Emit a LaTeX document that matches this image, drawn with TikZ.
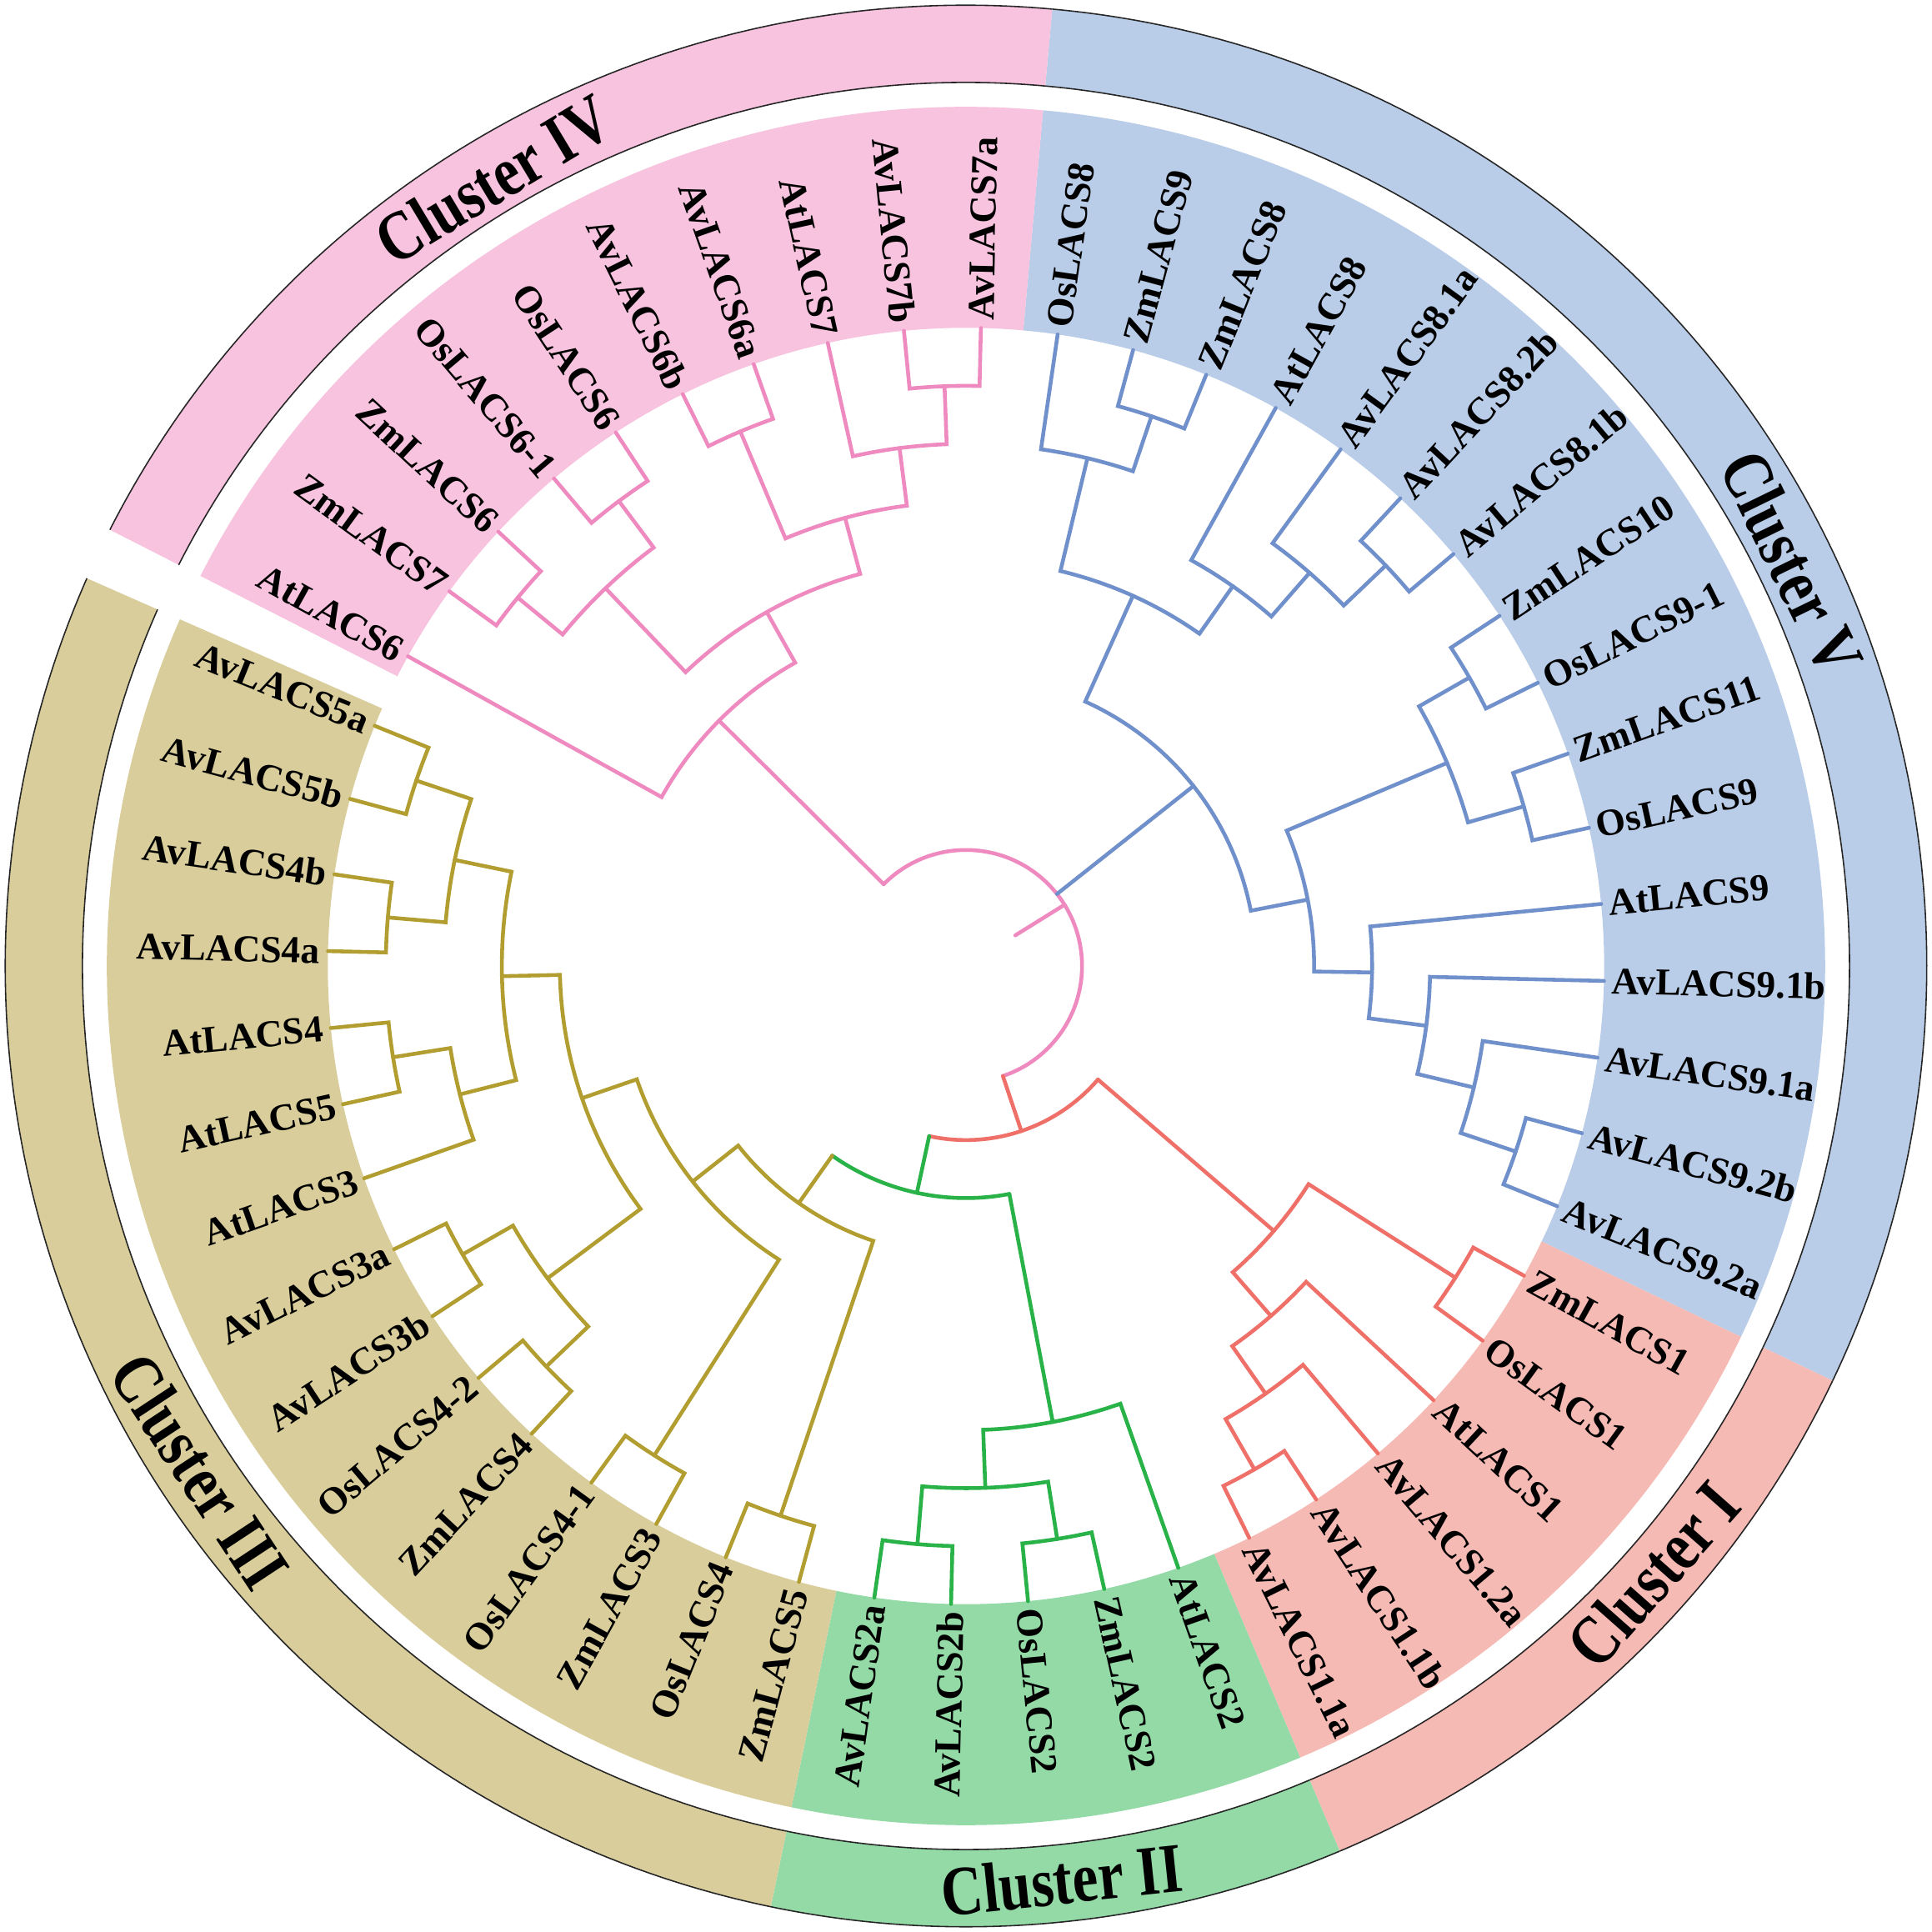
\documentclass[tikz,border=0pt]{standalone}
\usepackage{fontspec}
\setmainfont{Liberation Serif}
\newfontfamily\clusterfont[FakeStretch=0.82]{Liberation Serif}
\definecolor{lnBlue}{RGB}{111,144,203}
\definecolor{lnPink}{RGB}{238,138,192}
\definecolor{lnRed}{RGB}{238,112,104}
\definecolor{lnGreen}{RGB}{40,178,72}
\definecolor{lnOlive}{RGB}{178,158,48}
\definecolor{bgBlue}{RGB}{186,205,232}
\definecolor{bgPink}{RGB}{247,195,222}
\definecolor{bgRed}{RGB}{246,186,181}
\definecolor{bgGreen}{RGB}{148,218,167}
\definecolor{bgOlive}{RGB}{217,205,155}
\def\tipR{5.181}
\def\lvA{4.710}
\def\lvB{4.239}
\def\lvC{3.768}
\def\lvD{3.297}
\def\lvE{2.826}
\def\lvF{2.355}
\def\lvG{1.884}
\def\lvH{1.413}
\def\lvI{0.942}
\def\lvJ{0.471}
\def\secIn{5.181}
\def\secOut{6.975}
\def\ringIn{7.173}
\def\ringOut{7.800}
% clade: style, angle1, r1, angle2, r2, node radius
\newcommand\tnode[6]{\draw[#1] (#2:#3) -- (#2:#6) arc[start angle=#2,end angle=#4,radius=#6] -- (#4:#5);}
\newcommand\leafR[3]{\node[lab, anchor=west, rotate=#2] (#1) at (#2:\tipR) {#3};}
\newcommand\leafL[3]{\node[lab, anchor=east, rotate=#2+180] (#1) at (#2:\tipR) {#3};}
\newcommand\sector[3]{\fill[#1] (#2:\secIn) arc[start angle=#2,end angle=#3,radius=\secIn] -- (#3:\secOut) arc[start angle=#3,end angle=#2,radius=\secOut] -- cycle;
  \fill[#1] (#2:\ringIn) arc[start angle=#2,end angle=#3,radius=\ringIn] -- (#3:\ringOut) arc[start angle=#3,end angle=#2,radius=\ringOut] -- cycle;
  \draw[ringedge] (#2:\ringIn) arc[start angle=#2,end angle=#3,radius=\ringIn];
  \draw[ringedge] (#2:\ringOut) arc[start angle=#2,end angle=#3,radius=\ringOut];}
\tikzset{
  br/.style={line width=1.3pt, line cap=round, line join=miter},
  bl/.style={br, draw=lnBlue},
  pk/.style={br, draw=lnPink},
  rd/.style={br, draw=lnRed},
  gr/.style={br, draw=lnGreen},
  ol/.style={br, draw=lnOlive},
  ringedge/.style={line width=0.45pt, draw=black!85},
  lab/.style={font=\fontsize{13}{15}\selectfont\bfseries, inner sep=2.5pt, text=black},
  clab/.style={font=\clusterfont\fontsize{24}{28}\selectfont\bfseries, inner sep=0pt, text=black}
}
\begin{document}
\begin{tikzpicture}[x=1.478cm, y=1.478cm]
\useasboundingbox (-7.842,-7.842) rectangle (7.842,7.842);
\fill[white] (-7.842,-7.842) rectangle (7.842,7.842);
% ---------- coloured sectors and outer ring ----------
\sector{bgBlue}{84.85}{-25.57}
\sector{bgRed}{-25.57}{-67.11}
\sector{bgGreen}{-67.11}{-101.72}
\sector{bgOlive}{-101.72}{-203.8}
\sector{bgPink}{153.0}{84.85}
% ---------- Cluster V (blue) ----------
\tnode{bl}{74.82}{\tipR}{67.89}{\tipR}{\lvA}
\tnode{bl}{81.74}{\tipR}{71.355}{\lvA}{\lvB}
\tnode{bl}{47.12}{\tipR}{40.20}{\tipR}{\lvA}
\tnode{bl}{54.05}{\tipR}{43.66}{\lvA}{\lvB}
\tnode{bl}{60.97}{\tipR}{48.855}{\lvB}{\lvC}
\tnode{bl}{76.55}{\lvB}{54.91}{\lvC}{\lvD}
\tnode{bl}{33.28}{\tipR}{26.35}{\tipR}{\lvA}
\tnode{bl}{19.43}{\tipR}{12.51}{\tipR}{\lvA}
\tnode{bl}{29.815}{\lvA}{15.97}{\lvA}{\lvB}
\tnode{bl}{-15.19}{\tipR}{-22.11}{\tipR}{\lvA}
\tnode{bl}{-8.26}{\tipR}{-18.65}{\lvA}{\lvB}
\tnode{bl}{-1.34}{\tipR}{-13.455}{\lvB}{\lvC}
\tnode{bl}{5.58}{\tipR}{-7.3975}{\lvC}{\lvD}
\tnode{bl}{22.89}{\lvB}{-0.91}{\lvD}{\lvE}
\tnode{bl}{65.73}{\lvD}{10.99}{\lvE}{\lvF}
% ---------- Cluster I (red) ----------
\tnode{rd}{-29.03}{\tipR}{-35.95}{\tipR}{\lvA}
\tnode{rd}{-56.72}{\tipR}{-63.65}{\tipR}{\lvA}
\tnode{rd}{-49.80}{\tipR}{-60.185}{\lvA}{\lvB}
\tnode{rd}{-42.88}{\tipR}{-54.99}{\lvB}{\lvC}
\tnode{rd}{-32.49}{\lvA}{-48.935}{\lvC}{\lvD}
% ---------- Cluster II (green) ----------
\tnode{gr}{-77.49}{\tipR}{-84.42}{\tipR}{\lvA}
\tnode{gr}{-91.34}{\tipR}{-98.26}{\tipR}{\lvA}
\tnode{gr}{-80.955}{\lvA}{-94.80}{\lvA}{\lvB}
\tnode{gr}{-70.57}{\tipR}{-87.8775}{\lvB}{\lvC}
% ---------- Cluster III (olive) ----------
\tnode{ol}{-105.18}{\tipR}{-112.11}{\tipR}{\lvA}
\tnode{ol}{-119.03}{\tipR}{-125.95}{\tipR}{\lvA}
\tnode{ol}{-132.88}{\tipR}{-139.80}{\tipR}{\lvA}
\tnode{ol}{-146.72}{\tipR}{-153.65}{\tipR}{\lvA}
\tnode{ol}{-136.34}{\lvA}{-150.185}{\lvA}{\lvB}
\tnode{ol}{-167.49}{\tipR}{-174.42}{\tipR}{\lvA}
\tnode{ol}{-160.57}{\tipR}{-170.955}{\lvA}{\lvB}
\tnode{ol}{-181.34}{\tipR}{-188.26}{\tipR}{\lvA}
\tnode{ol}{-195.18}{\tipR}{-202.11}{\tipR}{\lvA}
\tnode{ol}{-184.80}{\lvA}{-198.645}{\lvA}{\lvB}
\tnode{ol}{-165.7625}{\lvB}{-191.7225}{\lvB}{\lvC}
\tnode{ol}{-143.2625}{\lvB}{-178.7425}{\lvC}{\lvD}
\tnode{ol}{-122.49}{\lvA}{-161.0025}{\lvD}{\lvE}
\tnode{ol}{-108.645}{\lvA}{-141.746}{\lvE}{\lvF}
% ---------- Cluster IV (pink) ----------
\tnode{pk}{144.05}{\tipR}{137.12}{\tipR}{\lvA}
\tnode{pk}{130.20}{\tipR}{123.28}{\tipR}{\lvA}
\tnode{pk}{140.585}{\lvA}{126.74}{\lvA}{\lvB}
\tnode{pk}{116.35}{\tipR}{109.43}{\tipR}{\lvA}
\tnode{pk}{95.58}{\tipR}{88.66}{\tipR}{\lvA}
\tnode{pk}{102.51}{\tipR}{92.12}{\lvA}{\lvB}
\tnode{pk}{112.89}{\lvA}{97.315}{\lvB}{\lvC}
\tnode{pk}{133.6625}{\lvB}{105.1025}{\lvC}{\lvD}
\tnode{pk}{150.97}{\tipR}{119.3825}{\lvD}{\lvE}
% ---------- deep nodes ----------
\draw[gr] (-125.1955:\lvG) arc[start angle=-125.1955,end angle=-79.2238,radius=\lvG];
\draw[ol] (-125.1955:\lvG) -- (-125.1955:\lvF);
\draw[gr] (-79.2238:\lvG) -- (-79.2238:\lvC);
\draw[rd] (-102.21:\lvH) arc[start angle=-102.21,end angle=-40.71,radius=\lvH];
\draw[gr] (-102.21:\lvH) -- (-102.21:\lvG);
\draw[rd] (-40.71:\lvH) -- (-40.71:\lvD);
\draw[pk] (135.175:\lvI) arc[start angle=135.175,end angle=-71.46,radius=\lvI];
\draw[pk] (135.175:\lvI) -- (135.175:\lvE);
\draw[bl] (38.36:\lvI) -- (38.36:\lvF);
\draw[rd] (-71.46:\lvI) -- (-71.46:\lvH);
\draw[pk] (31.86:\lvJ) -- (31.86:\lvI);
% ---------- leaf labels ----------
\leafR{l0}{88.66}{AvLACS7a}
\leafR{l1}{81.74}{OsLACS8}
\leafR{l2}{74.82}{ZmLACS9}
\leafR{l3}{67.89}{ZmLACS8}
\leafR{l4}{60.97}{AtLACS8}
\leafR{l5}{54.05}{AvLACS8.1a}
\leafR{l6}{47.12}{AvLACS8.2b}
\leafR{l7}{40.20}{AvLACS8.1b}
\leafR{l8}{33.28}{ZmLACS10}
\leafR{l9}{26.35}{OsLACS9-1}
\leafR{l10}{19.43}{ZmLACS11}
\leafR{l11}{12.51}{OsLACS9}
\leafR{l12}{5.58}{AtLACS9}
\leafR{l13}{-1.34}{AvLACS9.1b}
\leafR{l14}{-8.26}{AvLACS9.1a}
\leafR{l15}{-15.19}{AvLACS9.2b}
\leafR{l16}{-22.11}{AvLACS9.2a}
\leafR{l17}{-29.03}{ZmLACS1}
\leafR{l18}{-35.95}{OsLACS1}
\leafR{l19}{-42.88}{AtLACS1}
\leafR{l20}{-49.80}{AvLACS1.2a}
\leafR{l21}{-56.72}{AvLACS1.1b}
\leafR{l22}{-63.65}{AvLACS1.1a}
\leafR{l23}{-70.57}{AtLACS2}
\leafR{l24}{-77.49}{ZmLACS2}
\leafR{l25}{-84.42}{OsLACS2}
\leafL{l26}{-91.34}{AvLACS2b}
\leafL{l27}{-98.26}{AvLACS2a}
\leafL{l28}{-105.18}{ZmLACS5}
\leafL{l29}{-112.11}{OsLACS4}
\leafL{l30}{-119.03}{ZmLACS3}
\leafL{l31}{-125.95}{OsLACS4-1}
\leafL{l32}{-132.88}{ZmLACS4}
\leafL{l33}{-139.80}{OsLACS4-2}
\leafL{l34}{-146.72}{AvLACS3b}
\leafL{l35}{-153.65}{AvLACS3a}
\leafL{l36}{-160.57}{AtLACS3}
\leafL{l37}{-167.49}{AtLACS5}
\leafL{l38}{-174.42}{AtLACS4}
\leafL{l39}{-181.34}{AvLACS4a}
\leafL{l40}{-188.26}{AvLACS4b}
\leafL{l41}{-195.18}{AvLACS5b}
\leafL{l42}{-202.11}{AvLACS5a}
\leafL{l43}{150.97}{AtLACS6}
\leafL{l44}{144.05}{ZmLACS7}
\leafL{l45}{137.12}{ZmLACS6}
\leafL{l46}{130.20}{OsLACS6-1}
\leafL{l47}{123.28}{OsLACS6}
\leafL{l48}{116.35}{AvLACS6b}
\leafL{l49}{109.43}{AvLACS6a}
\leafL{l50}{102.51}{AtLACS7}
\leafL{l51}{95.58}{AvLACS7b}
% ---------- cluster names ----------
\node[clab, rotate=-64] (cV) at (26:7.46) {Cluster V};
\node[clab, rotate=31] (cIV) at (121:7.45) {Cluster IV};
\node[clab, rotate=-56.6] (cIII) at (-146.6:7.45) {Cluster III};
\node[clab, rotate=6] (cII) at (-84:7.46) {Cluster II};
\node[clab, rotate=48.5] (cI) at (-41.5:7.45) {Cluster I};
\end{tikzpicture}
\end{document}
